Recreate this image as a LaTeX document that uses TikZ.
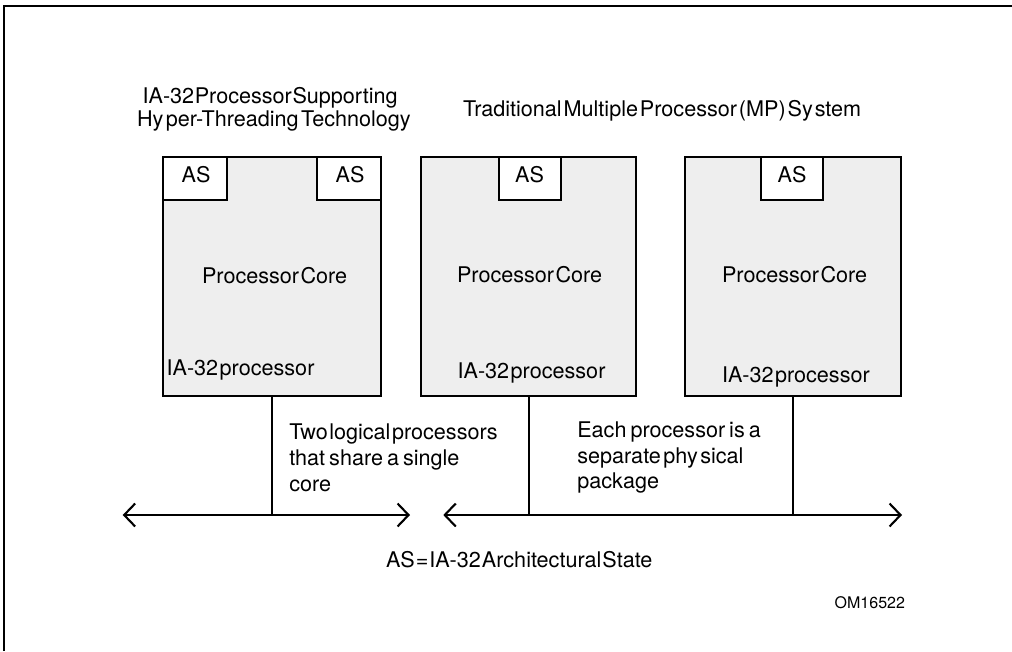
\documentclass[tikz,border=0pt]{standalone}
\usepackage{fontspec}
\setmainfont[WordSpace=0.25]{TeX Gyre Heros}
\usetikzlibrary{arrows.meta}
\definecolor{corefill}{HTML}{EEEEEE}
\tikzset{
  x=1pt,y=-1pt,
  every node/.style={inner sep=0pt,outer sep=0pt,font=\fontsize{21.6}{25}\selectfont,text=black},
  lbl/.style={anchor=base west},
  lblc/.style={anchor=base},
  gap/.style={execute at begin node={\spaceskip=#1pt\relax}},
  core/.style={draw=black,line width=2.1pt,fill=corefill,anchor=north west},
  asbox/.style={draw=black,line width=2.1pt,fill=white,anchor=north west,minimum height=42.5pt},
  wire/.style={draw=black,line width=2.1pt},
  bus/.style={draw=black,line width=2.1pt,line cap=round,{Straight Barb[length=11pt,width=23pt,line width=2.1pt]}-{Straight Barb[length=11pt,width=23pt,line width=2.1pt]}},
  frameline/.style={draw=black,line width=2pt}
}
\begin{document}
\begin{tikzpicture}
\useasboundingbox (0,0) rectangle (1012,651);
\coordinate (fa) at (4,651);
\coordinate (fb) at (4,6);
\coordinate (fc) at (1012,6);
\draw[frameline] (fa) -- (fb) -- (fc);

\node[core,minimum width=217.4pt,minimum height=239pt] (p1) at (163.3,157.2) {};
\node[core,minimum width=215.3pt,minimum height=239pt] (p2) at (421,157.2) {};
\node[core,minimum width=215.7pt,minimum height=239pt] (p3) at (685.3,157.2) {};

\node[asbox,minimum width=63.7pt] (a1) at (163.3,157.2) {};
\node[asbox,minimum width=63.4pt] (a2) at (317.3,157.2) {};
\node[asbox,minimum width=62pt] (a3) at (498.7,157.2) {};
\node[asbox,minimum width=61.4pt] (a4) at (761.3,157.2) {};

\node[lblc] (ta1) at (196,182.7) {AS};
\node[lblc] (ta2) at (350,182.7) {AS};
\node[lblc] (ta3) at (529.5,182.7) {AS};
\node[lblc] (ta4) at (792,182.7) {AS};

\node[lbl,gap=0.6] (t1) at (142.7,103.3) {IA-32 Processor Supporting};
\node[lbl,gap=2.5] (t2) at (137,126.7) {Hy per-Threading Technology};
\node[lbl,gap=1.9] (t3) at (463,116.7) {Traditional Multiple Processor (MP) Sy stem};

\node[lbl] (c1) at (202,283.3) {Processor Core};
\node[lbl] (c2) at (457,282.7) {Processor Core};
\node[lbl] (c3) at (722,282.7) {Processor Core};

\node[lbl] (i1) at (166.7,375) {IA-32 processor};
\node[lbl] (i2) at (457.7,378) {IA-32 processor};
\node[lbl] (i3) at (722,382.3) {IA-32 processor};

\node[lbl] (n1) at (289.3,439.3) {Two logical processors};
\node[lbl,gap=4] (n2) at (289.3,465) {that share a single};
\node[lbl] (n3) at (289.3,491.7) {core};
\node[lbl,gap=4] (n4) at (577.3,437.3) {Each processor is a};
\node[lbl,gap=2.5] (n5) at (577.3,463.3) {separate phy sical};
\node[lbl] (n6) at (577.3,488.3) {package};

\node[lbl,gap=1] (leg) at (386,567.3) {AS = IA-32 Architectural State};
\node[lbl,font=\fontsize{16}{19}\selectfont] (om) at (834.7,608) {OM16522};

\coordinate (bl1) at (122.7,515);
\coordinate (bl2) at (410,515);
\coordinate (br1) at (443.3,515);
\coordinate (br2) at (902,515);
\draw[bus] (bl1) -- (bl2);
\draw[bus] (br1) -- (br2);
\draw[wire] (p1.south) -- (p1.south |- bl1);
\draw[wire] (p2.south) -- (p2.south |- br1);
\draw[wire] (p3.south) -- (p3.south |- br1);
\end{tikzpicture}
\end{document}
